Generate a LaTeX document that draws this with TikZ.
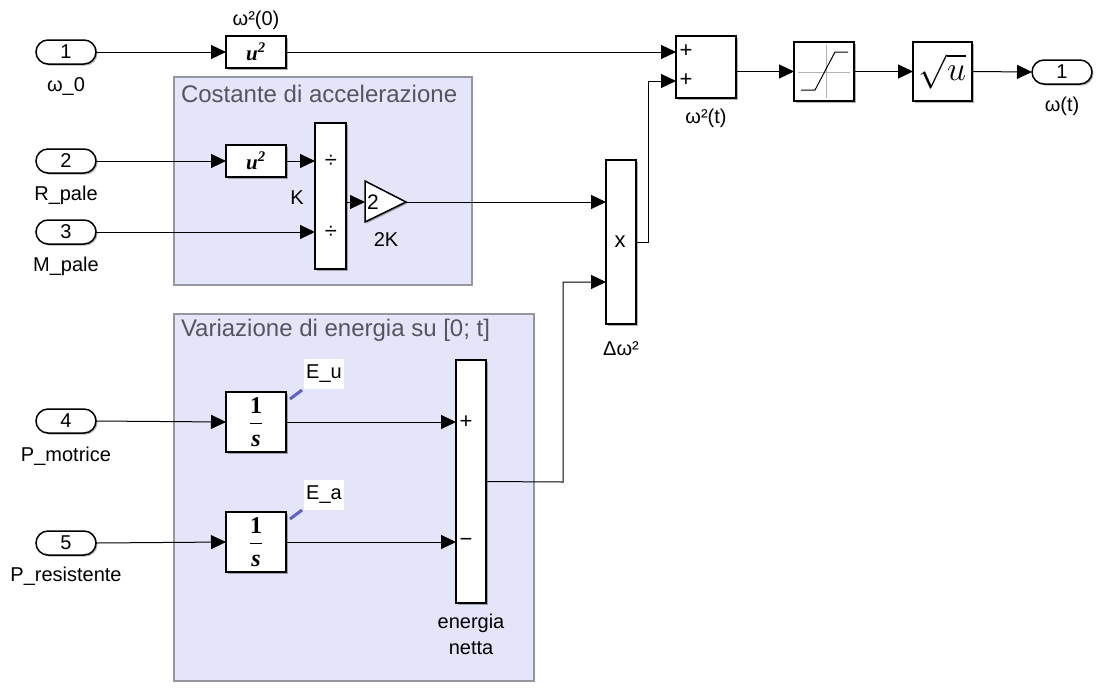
\RequirePackage{fix-cm}
\documentclass[tikz,border=0pt]{standalone}
\usepackage{fontspec}
\setmainfont{Liberation Sans}
\newfontfamily\seriffont{Liberation Serif}
\usepackage{amsmath}
\usetikzlibrary{shapes.misc,shadows,arrows.meta}
\definecolor{subfill}{RGB}{229,229,250}
\definecolor{subdraw}{RGB}{150,150,160}
\definecolor{titlecol}{RGB}{85,85,95}
\definecolor{sigblue}{RGB}{95,95,210}
\begin{document}
\begin{tikzpicture}[x=1pt,y=-1pt,
  every node/.style={font=\fontsize{20}{23}\selectfont, inner sep=0pt, outer sep=0pt},
  shad/.style={drop shadow={shadow xshift=1.5pt,shadow yshift=-1.5pt,fill=black,opacity=0.3}},
  blk/.style={draw, line width=1.5pt, fill=white, rectangle, shad},
  port/.style={draw, line width=1.5pt, fill=white, rounded rectangle, minimum width=60pt, minimum height=24pt, shad},
  wire/.style={line width=1pt, -{Triangle[length=15pt,width=14pt]}},
  subsys/.style={draw=subdraw, line width=1.5pt, fill=subfill},
  title/.style={anchor=west, text=titlecol, font=\fontsize{24}{27}\selectfont},
  sgn/.style={font=\fontsize{22}{24}\selectfont},
  usq/.style={font=\fontsize{21}{23}\seriffont\bfseries\itshape},
  frac/.style={font=\fontsize{24}{26}\selectfont},
  eline/.style={draw=sigblue, line width=3pt},
  elabel/.style={fill=white, minimum width=40pt, minimum height=30pt}
]
\useasboundingbox (0,0) rectangle (1107,697);
% subsystems
\path[subsys] (174,77) rectangle (472,285);
\node[title] (t1) at (181,94) {Costante di accelerazione};
\path[subsys] (174,314) rectangle (534,681);
\node[title] (t2) at (181,330) {Variazione di energia su [0; t]};

% inports
\node[port] (in1) at (66,52) {1};
\node (l1) at (66,86) {ω\_0};
\node[port] (in2) at (66,161) {2};
\node (l2) at (66,195) {R\_pale};
\node[port] (in3) at (66,232) {3};
\node (l3) at (66,266) {M\_pale};
\node[port] (in4) at (66,421) {4};
\node (l4) at (66,456) {P\_motrice};
\node[port] (in5) at (66,543) {5};
\node (l5) at (66,576) {P\_resistente};

% outport
\node[port] (out1) at (1062,72) {1};
\node (lo) at (1062,106) {ω(t)};

% u^2 blocks
\node[blk, minimum width=60pt, minimum height=32pt, usq] (sq1) at (256,52) {u\textsuperscript{2}};
\node (lsq1) at (256,20) {ω²(0)};
\node[blk, minimum width=60pt, minimum height=32pt, usq] (sq2) at (256,161) {u\textsuperscript{2}};

% divide block
\node[blk, minimum width=31pt, minimum height=146pt] (div) at (330.5,196) {};
\node[sgn] (d1) at (331,161) {÷};
\node[sgn] (d2) at (331,232) {÷};
\node (lk) at (297,198) {K};

% gain
\coordinate (gin) at (365,202);
\coordinate (gout) at (406,202);
\path[draw, line width=1.5pt, fill=white, shad] (365,181) -- (406,202) -- (365,222) -- cycle;
\node[font=\fontsize{21}{23}\selectfont] (g2) at (373,202) {2};
\node (l2k) at (386,240) {2K};

% product
\node[blk, minimum width=30pt, minimum height=164pt] (prod) at (621,242) {};
\node[sgn] (px) at (620,242) {x};
\node (lprod) at (621,349) {Δω²};

% sum
\node[blk, minimum width=60pt, minimum height=62pt] (sum1) at (706,67) {};
\node[sgn] (s1) at (686,51) {+};
\node[sgn] (s2) at (686,80) {+};
\node (lsum) at (706,118) {ω²(t)};

% saturation
\node[blk, minimum width=60pt, minimum height=59pt] (sat) at (824,71.5) {};
\draw[gray!60, line width=0.8pt] (826,45) -- (826,98);
\draw[gray!60, line width=0.8pt] (798,72) -- (850,72);
\draw[line width=1pt] (801,90) -- (815,90) -- (835,52) -- (848,52);

% sqrt
\node[blk, minimum width=59pt, minimum height=59pt] (sqrtb) at (942.5,71.5) {\fontsize{34}{36}\selectfont$\sqrt{u}$};

% integrators
\node[blk, minimum width=60pt, minimum height=60pt, frac] (int1) at (256,422) {$\dfrac{\text{\seriffont\bfseries 1}}{\text{\seriffont\bfseries\itshape s}}$};
\node[blk, minimum width=60pt, minimum height=60pt, frac] (int2) at (256,542) {$\dfrac{\text{\seriffont\bfseries 1}}{\text{\seriffont\bfseries\itshape s}}$};
\node[elabel] (eu) at (324,374) {E\_u};
\node[elabel] (ea) at (324,495) {E\_a};
\draw[eline] (290,399) -- (302,390);
\draw[eline] (290,519) -- (302,510);

% energia netta
\node[blk, minimum width=30pt, minimum height=243pt] (en) at (471,481.5) {};
\node[sgn] (ep) at (466,422) {+};
\node[sgn] (em) at (466,542) {−};
\node (len1) at (471,623) {energia};
\node (len2) at (471,648) {netta};

% wires
\draw[wire] (in1.east) -- (sq1.west);
\draw[wire] (sq1.east) -- (sq1.east -| sum1.west);
\draw[wire] (in2.east) -- (sq2.west);
\draw[wire] (sq2.east) -- (sq2.east -| div.west);
\draw[wire] (in3.east) -- (in3.east -| div.west);
\draw[wire] (div.east |- gin) -- (gin);
\draw[wire] (gout) -- (gout -| prod.west);
\coordinate (c1) at (563,482);
\coordinate (c2) at (563,282);
\draw[wire] (en.east) -- (c1) -- (c2) -- (c2 -| prod.west);
\coordinate (c3) at (648,242);
\coordinate (c4) at (648,81);
\draw[wire] (prod.east) -- (c3) -- (c4) -- (c4 -| sum1.west);
\draw[wire] (sum1.east |- sat.west) -- (sat.west);
\draw[wire] (sat.east) -- (sqrtb.west);
\draw[wire] (sqrtb.east) -- (out1.west);
\draw[wire] (in4.east) -- (int1.west);
\draw[wire] (int1.east) -- (int1.east -| en.west);
\draw[wire] (in5.east) -- (int2.west);
\draw[wire] (int2.east) -- (int2.east -| en.west);
\end{tikzpicture}
\end{document}
